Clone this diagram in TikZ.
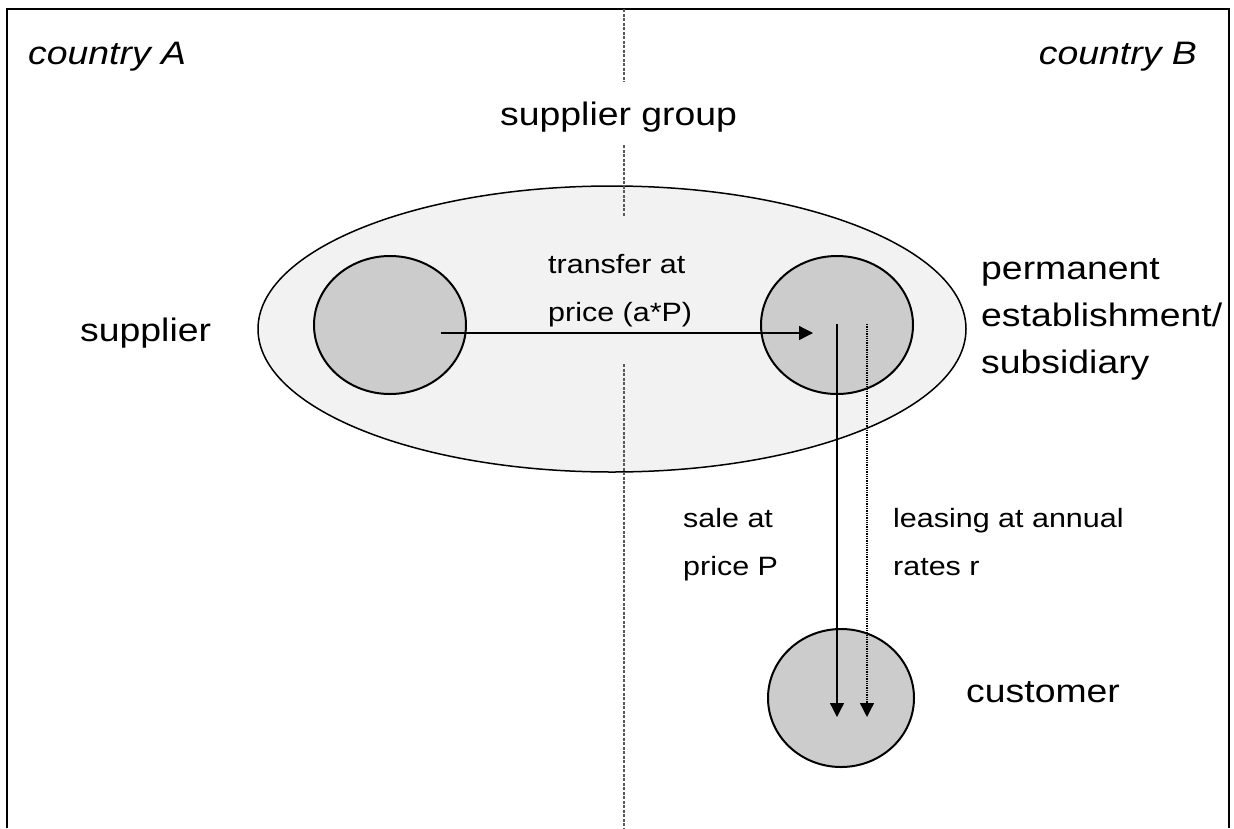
\documentclass[tikz,border=0pt]{standalone}
\usepackage{fontspec}
\setmainfont{Liberation Sans}[FakeStretch=1.15]
\usetikzlibrary{arrows.meta,shapes.geometric,positioning}

\begin{document}
\begin{tikzpicture}[x=1pt, y=-1pt,
  every node/.style={inner sep=0pt},
  bigtext/.style={font=\fontsize{32.5}{47}\selectfont, align=left},
  smalltext/.style={font=\fontsize{26.5}{48}\selectfont, align=left},
  group/.style={draw, ellipse, line width=1.5pt, fill=black!5, minimum width=708pt, minimum height=286pt},
  unit/.style={draw, ellipse, line width=2pt, fill=black!20, minimum width=152pt, minimum height=138pt},
  flow/.style={line width=1.3pt, -{Triangle[length=14pt,width=14pt]}},
  border/.style={line width=1.2pt, black!65, dash pattern=on 3pt off 1.5pt}]
  \useasboundingbox (0,0) rectangle (1234,828);
  % frame of the two countries
  \draw[line width=2.5pt] (7,828) -- (7,9) -- (1229,9) -- (1229,828);

  % group and its units
  \node[group] (grp) at (612,329) {};
  \node[unit] (supp) at (390,325) {};
  \node[unit] (pe) at (837,325) {};
  \node[unit, minimum width=146pt] (cust) at (841,698) {};

  % border between country A and B
  \draw[border] (624,9) -- (624,82);
  \draw[border] (624,145) -- (624,217);
  \draw[border] (624,364) -- (624,828);

  % flows
  \coordinate (tstart) at (441,333);
  \coordinate (tend) at (813,333);
  \coordinate (salestart) at (837,324);
  \coordinate (saleend) at (837,717);
  \coordinate (leasestart) at (867,324);
  \coordinate (leaseend) at (867,717);
  \draw[flow] (tstart) -- (tend);
  \draw[flow] (salestart) -- (saleend);
  \draw[flow, densely dotted] (leasestart) -- (leaseend);

  % labels (base = last line)
  \node[bigtext, anchor=base west] (ctyA) at (28,64) {\itshape country A};
  \node[bigtext, anchor=base east] (ctyB) at (1197,64) {\itshape country B};
  \node[bigtext, anchor=base west] (grplabel) at (500,125) {supplier group};
  \node[bigtext, anchor=base west] (supplabel) at (80,341) {supplier};
  \node[smalltext, anchor=base west] (translabel) at (548,321) {transfer at\\price (a*P)};
  \node[bigtext, anchor=base west] (pelabel) at (981,373) {permanent\\establishment/\\subsidiary};
  \node[smalltext, anchor=base west] (salelabel) at (683,575) {sale at\\price P};
  \node[smalltext, anchor=base west] (leaselabel) at (893,575) {leasing at annual\\rates r};
  \node[bigtext, anchor=base west] (custlabel) at (966,702) {customer};
\end{tikzpicture}
\end{document}
